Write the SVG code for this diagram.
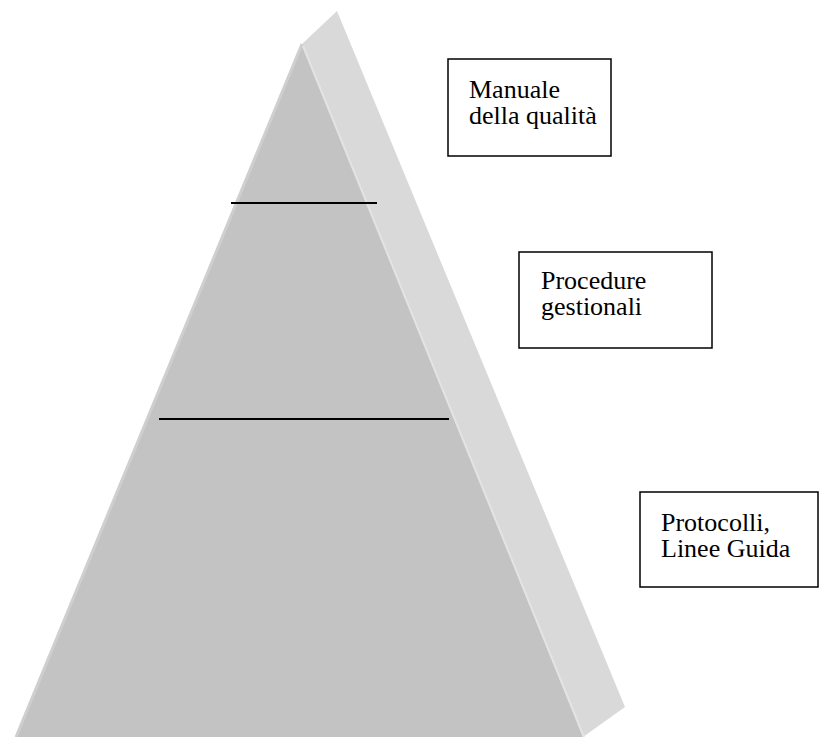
<svg xmlns="http://www.w3.org/2000/svg" width="820" height="737" viewBox="0 0 820 737">
<style>
.box{fill:#fff;stroke:#000;stroke-width:1.5}
.lbl{font-family:"Liberation Serif","Times New Roman",serif;font-size:26px;fill:#000}
.sep{stroke:#000;stroke-width:2}
</style>
<rect width="820" height="737" fill="#fff"/>
<g id="pyramid">
<polygon points="302,44 337,11 625,707 583,737" fill="#d9d9d9"/>
<polygon points="302,44 583,737 16,737" fill="#c3c3c3"/>
<line x1="302" y1="44" x2="16" y2="737" stroke="#cfcfcf" stroke-width="3"/>
<line x1="303" y1="46" x2="584" y2="737" stroke="#e3e3e3" stroke-width="2"/>
<line class="sep" x1="231" y1="203" x2="377" y2="203"/>
<line class="sep" x1="159" y1="419" x2="449" y2="419"/>
</g>
<g id="box1">
<rect class="box" x="448" y="59" width="163" height="97"/>
<text class="lbl" x="469" y="98">Manuale</text>
<text class="lbl" x="469" y="124">della qualità</text>
</g>
<g id="box2">
<rect class="box" x="519" y="252" width="193" height="96"/>
<text class="lbl" x="541" y="289">Procedure</text>
<text class="lbl" x="541" y="315">gestionali</text>
</g>
<g id="box3">
<rect class="box" x="640" y="492" width="178" height="95"/>
<text class="lbl" x="661" y="531">Protocolli,</text>
<text class="lbl" x="661" y="557">Linee Guida</text>
</g>
</svg>
